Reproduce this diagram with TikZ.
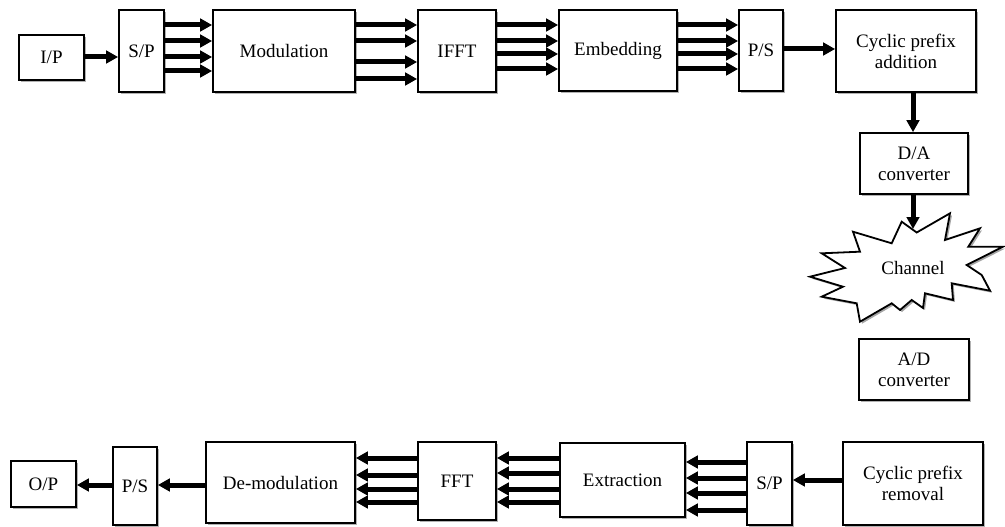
\documentclass[tikz,border=0pt]{standalone}
\usepackage{fontspec}
\setmainfont{Liberation Serif}
\usetikzlibrary{arrows.meta,shadows}
\begin{document}
\begin{tikzpicture}[x=1pt,y=-1pt,
  font=\fontsize{19}{21}\selectfont,
  blk/.style={draw, line width=1.7pt, fill=white, inner sep=0pt, align=center,
    drop shadow={shadow xshift=2pt, shadow yshift=-2pt, fill=black!30, opacity=1}},
  arr/.style={line width=5pt, -{Triangle[length=12pt,width=12.5pt]}}]
\useasboundingbox (0,0) rectangle (1005,527);
% top row
\node[blk, minimum width=65pt, minimum height=45pt] (ip) at (51.5,57.5) {I/P};
\node[blk, minimum width=45pt, minimum height=82pt] (sp1) at (141.5,51) {S/P};
\node[blk, minimum width=142pt, minimum height=82pt] (mod) at (284,51) {Modulation};
\node[blk, minimum width=78pt, minimum height=82pt] (ifft) at (457,51) {IFFT};
\node[blk, minimum width=118pt, minimum height=81pt] (emb) at (618,50.5) {Embedding};
\node[blk, minimum width=44pt, minimum height=81pt] (ps1) at (761,50.5) {P/S};
\node[blk, minimum width=140pt, minimum height=82pt] (cpa) at (906,51) {Cyclic prefix\\addition};
\node[blk, minimum width=108pt, minimum height=61pt] (da) at (914,163.5) {D/A\\converter};
% channel
\draw[line width=1.8pt, fill=white,
  drop shadow={shadow xshift=2pt, shadow yshift=-2pt, fill=black!35, opacity=1}]
  (810,276.7) -- (845,268) -- (821.7,253.3) -- (860,251.7) -- (853,231.7)
  -- (891.7,243.3) -- (901.7,221.7) -- (916.7,232.5) -- (950,213.3) -- (945,240)
  -- (980,228.3) -- (968.3,246.7) -- (1003,246.7) -- (966.7,265) -- (981.7,275)
  -- (990,290.7) -- (951.7,283.3) -- (953,300) -- (925,293.3) -- (923,308)
  -- (911.7,300) -- (900,310) -- (891.7,303.3) -- (860,321.7) -- (856.7,303.3)
  -- (821.7,296.7) -- (843,286.7) -- cycle;
\node (ch) at (913,268) {Channel};
\coordinate (chtop) at (913,229);
\node[blk, minimum width=110pt, minimum height=61pt] (ad) at (914,369.5) {A/D\\converter};
% bottom row
\node[blk, minimum width=65pt, minimum height=46pt] (op) at (43.5,484) {O/P};
\node[blk, minimum width=44pt, minimum height=78pt] (ps2) at (135,486) {P/S};
\node[blk, minimum width=149pt, minimum height=81pt] (dem) at (280.5,482.5) {De-modulation};
\node[blk, minimum width=78pt, minimum height=78pt] (fft) at (457,481) {FFT};
\node[blk, minimum width=125pt, minimum height=74pt] (ext) at (622.5,480) {Extraction};
\node[blk, minimum width=45pt, minimum height=83pt] (sp2) at (769.5,483.5) {S/P};
\node[blk, minimum width=140pt, minimum height=83pt] (cpr) at (913,483.5) {Cyclic prefix\\removal};
% top arrows
\draw[arr] (ip.east |- 0,57) -- (sp1.west |- 0,57);
\foreach \y in {25,41,57,71} \draw[arr] (sp1.east |- 0,\y) -- (mod.west |- 0,\y);
\foreach \y in {25,41,62,79} \draw[arr] (mod.east |- 0,\y) -- (ifft.west |- 0,\y);
\foreach \y in {25,41,54,69} \draw[arr] (ifft.east |- 0,\y) -- (emb.west |- 0,\y);
\foreach \y in {25,41,54,69} \draw[arr] (emb.east |- 0,\y) -- (ps1.west |- 0,\y);
\draw[arr] (ps1.east |- 0,49) -- (cpa.west |- 0,49);
\draw[arr] (cpa.south -| 913,0) -- (da.north -| 913,0);
\draw[arr] (da.south -| 913,0) -- (chtop);
% bottom arrows
\draw[arr] (ps2.west |- 0,485) -- (op.east |- 0,485);
\draw[arr] (dem.west |- 0,485) -- (ps2.east |- 0,485);
\foreach \y in {458,475,489,502} \draw[arr] (fft.west |- 0,\y) -- (dem.east |- 0,\y);
\foreach \y in {458,473,489,502} \draw[arr] (ext.west |- 0,\y) -- (fft.east |- 0,\y);
\foreach \y in {462,478,493,510} \draw[arr] (sp2.west |- 0,\y) -- (ext.east |- 0,\y);
\draw[arr] (cpr.west |- 0,480) -- (sp2.east |- 0,480);
\end{tikzpicture}
\end{document}
